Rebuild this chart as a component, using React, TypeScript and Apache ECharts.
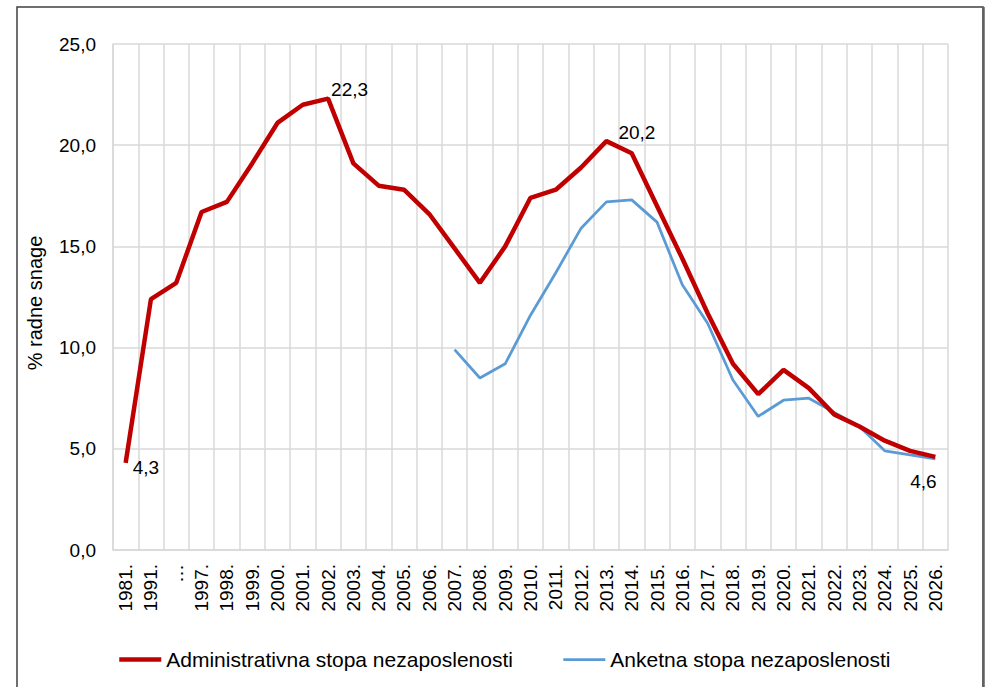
import React, { useEffect, useRef } from "react";
import * as echarts from "echarts";

const categories = [
  "1981.", "1991.", "…", "1997.", "1998.", "1999.", "2000.", "2001.", "2002.", "2003.",
  "2004.", "2005.", "2006.", "2007.", "2008.", "2009.", "2010.", "2011.", "2012.", "2013.",
  "2014.", "2015.", "2016.", "2017.", "2018.", "2019.", "2020.", "2021.", "2022.", "2023.",
  "2024.", "2025.", "2026.",
];

const adminValues = [
  4.3, 12.4, 13.2, 16.7, 17.2, 19.1, 21.1, 22.0, 22.3, 19.1,
  18.0, 17.8, 16.6, 14.9, 13.2, 15.0, 17.4, 17.8, 18.9, 20.2,
  19.6, 17.0, 14.4, 11.7, 9.2, 7.7, 8.9, 8.0, 6.7, 6.1,
  5.4, 4.9, 4.6,
];

const surveyValues: (number | null)[] = [
  null, null, null, null, null, null, null, null, null, null,
  null, null, null, 9.9, 8.5, 9.2, 11.6, 13.7, 15.9, 17.2,
  17.3, 16.2, 13.1, 11.2, 8.4, 6.6, 7.4, 7.5, 6.8, 6.1,
  4.9, 4.7, 4.5,
];

const yTicks = { min: 0, max: 25, interval: 5 };

const seriesNames = ["Administrativna stopa nezaposlenosti", "Anketna stopa nezaposlenosti"];
const yAxisName = "% radne snage";

// labelled points: category index -> label placement
const labelledPoints: Record<number, { position: string; offset: number[] }> = {
  0: { position: "right", offset: [2, 5] },
  8: { position: "right", offset: [-2, -9] },
  19: { position: "right", offset: [7, -9] },
  32: { position: "bottom", offset: [-12, 10] },
};

const fmt = (v: number) => v.toFixed(1).replace(".", ",");

export default function App() {
  const ref = useRef<HTMLDivElement>(null);
  useEffect(() => {
    if (!ref.current) return;
    const chart = echarts.init(ref.current, null, { renderer: "svg" });
    const font = "'Liberation Sans', Arial, sans-serif";
    const adminData = adminValues.map((v, i) => {
      const lp = labelledPoints[i];
      if (!lp) return v;
      return {
        value: v,
        label: {
          show: true,
          position: lp.position,
          offset: lp.offset,
          formatter: (p: any) => fmt(p.value),
          fontSize: 19,
          color: "#000",
          fontFamily: font,
        },
      };
    });
    chart.setOption({
      animation: false,
      textStyle: { fontFamily: font },
      grid: { left: 113, right: 43, top: 44, bottom: 137, containLabel: false },
      legend: {
        left: 112,
        top: 644,
        itemWidth: 42,
        itemHeight: 14,
        itemGap: 49,
        textStyle: { fontSize: 21, color: "#000", fontFamily: font },
        data: [
          { name: seriesNames[0], lineStyle: { color: "#c00000", width: 4.5 } },
          { name: seriesNames[1], lineStyle: { color: "#5b9bd5", width: 2.75 } },
        ],
      },
      xAxis: {
        type: "category",
        data: categories,
        boundaryGap: true,
        axisLine: { show: true, lineStyle: { color: "#d9d9d9", width: 1.5 } },
        axisTick: { show: false },
        splitLine: { show: true, interval: 0, lineStyle: { color: "#d9d9d9", width: 1.5 } },
        axisLabel: {
          interval: 0,
          rotate: 90,
          fontSize: 19,
          color: "#000",
          margin: 14,
          fontFamily: font,
        },
      },
      yAxis: {
        type: "value",
        min: yTicks.min,
        max: yTicks.max,
        interval: yTicks.interval,
        name: yAxisName,
        nameLocation: "middle",
        nameRotate: 90,
        nameGap: 68,
        nameTextStyle: { fontSize: 20, color: "#000", fontFamily: font, padding: [0, 0, 0, -12] },
        axisLine: { show: true, lineStyle: { color: "#d9d9d9", width: 1.5 } },
        axisTick: { show: false },
        splitLine: { show: true, lineStyle: { color: "#d9d9d9", width: 1.5 } },
        axisLabel: {
          fontSize: 19,
          color: "#000",
          margin: 17,
          fontFamily: font,
          formatter: (v: number) => fmt(v),
        },
      },
      series: [
        {
          name: seriesNames[0],
          type: "line",
          data: adminData,
          symbol: "circle",
          symbolSize: 0,
          showSymbol: true,
          lineStyle: { color: "#c00000", width: 4.5 },
          itemStyle: { color: "rgba(0,0,0,0)" },
          z: 3,
        },
        {
          name: seriesNames[1],
          type: "line",
          data: surveyValues,
          symbol: "none",
          connectNulls: false,
          lineStyle: { color: "#5b9bd5", width: 2.75 },
          itemStyle: { color: "rgba(0,0,0,0)" },
          z: 2,
        },
      ],
      graphic: [
        {
          type: "rect",
          shape: { x: 17, y: 7, width: 966, height: 700 },
          style: { fill: "none", stroke: "#404040", lineWidth: 1.5 },
          silent: true,
        },
        {
          type: "line",
          shape: { x1: 983.5, y1: 7, x2: 983.5, y2: 700 },
          style: { stroke: "#606060", lineWidth: 2.5 },
          silent: true,
        },
      ],
    });
    return () => chart.dispose();
  }, []);
  return (
    <div
      ref={ref}
      style={{ position: "fixed", left: 0, top: 0, width: 991, height: 687, background: "#fff" }}
    />
  );
}
